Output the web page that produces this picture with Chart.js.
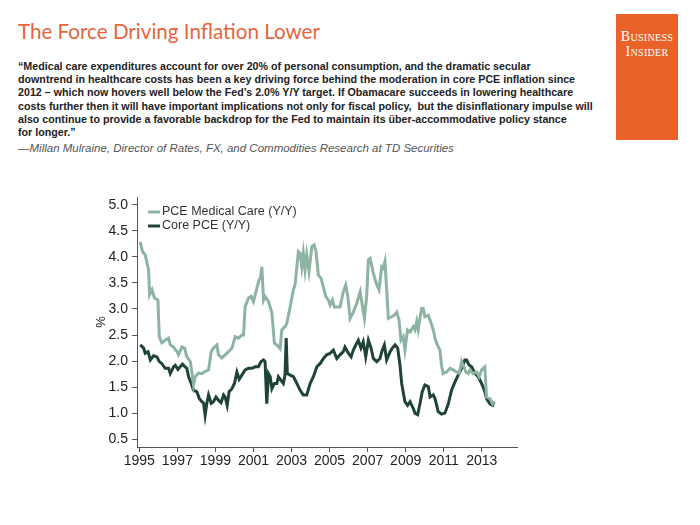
<!DOCTYPE html>
<html>
<head>
<meta charset="utf-8">
<script src="https://cdn.jsdelivr.net/npm/chart.js@4.4.0/dist/chart.umd.min.js"></script>
<style>
  html, body { margin: 0; padding: 0; background: #fff; }
  #page { position: relative; width: 700px; height: 525px; overflow: hidden; }
  #title { position: absolute; left: 18px; top: 19px; font: 20.6px "Lato", "Open Sans", sans-serif; color: #e8643a; white-space: nowrap; }
  #logo { position: absolute; left: 616px; top: 14px; width: 62px; height: 126px; background: #e8622a; color: #fff;
          font: 14px "Liberation Serif", "DejaVu Serif", serif; font-variant: small-caps; text-align: center; line-height: 15px; padding-top: 15px; box-sizing: border-box; letter-spacing: 0.3px; }
  #quote { position: absolute; left: 18px; top: 60px; font: bold 10.7px "Liberation Sans", Arial, sans-serif; color: #222; line-height: 13.2px; white-space: nowrap; }
  #source { position: absolute; left: 18px; top: 142px; font: italic 11.5px "Liberation Sans", Arial, sans-serif; color: #555; white-space: nowrap; }
  #chart { position: absolute; left: 0; top: 0; }
</style>
</head>
<body>
<div id="page">
  <div id="title">The Force Driving Inflation Lower</div>
  <div id="logo">Business<br>Insider</div>
  <div id="quote">“Medical care expenditures account for over 20% of personal consumption, and the dramatic secular<br>downtrend in healthcare costs has been a key driving force behind the moderation in core PCE inflation since<br>2012 – which now hovers well below the Fed’s 2.0% Y/Y target. If Obamacare succeeds in lowering healthcare<br>costs further then it will have important implications not only for fiscal policy,&nbsp; but the disinflationary impulse will<br>also continue to provide a favorable backdrop for the Fed to maintain its über-accommodative policy stance<br>for longer.”</div>
  <div id="source">—Millan Mulraine, Director of Rates, FX, and Commodities Research at TD Securities</div>
  <canvas id="chart" width="700" height="525"></canvas>
</div>
<script>
// valeurs (année décimale, % a/a)
const medYears = [1995.05, 1995.17, 1995.31, 1995.49, 1995.54, 1995.67, 1995.80, 1995.98, 1996.05, 1996.19, 1996.36, 1996.54, 1996.63, 1996.80, 1996.98,
  1997.06, 1997.24, 1997.38, 1997.50, 1997.68, 1997.77, 1997.85, 1997.94, 1998.11, 1998.29, 1998.46, 1998.64, 1998.78, 1998.90,
  1999.08, 1999.16, 1999.34, 1999.51, 1999.69, 1999.87, 2000.04, 2000.21, 2000.39, 2000.48, 2000.56, 2000.74, 2000.88,
  2001.00, 2001.18, 2001.30, 2001.37, 2001.44, 2001.53, 2001.61, 2001.79, 2001.97, 2002.10, 2002.23, 2002.40, 2002.49, 2002.66, 2002.75, 2002.93,
  2003.10, 2003.19, 2003.36, 2003.45, 2003.54, 2003.62, 2003.71, 2003.80, 2003.92, 2004.07, 2004.19, 2004.29, 2004.41, 2004.55, 2004.67, 2004.80, 2004.94,
  2005.03, 2005.15, 2005.25, 2005.46, 2005.55, 2005.72, 2005.85, 2005.96, 2006.08, 2006.25, 2006.43, 2006.61, 2006.69, 2006.83, 2006.95,
  2007.04, 2007.13, 2007.30, 2007.48, 2007.60, 2007.74, 2007.82, 2007.91, 2008.00, 2008.09, 2008.27, 2008.40, 2008.53, 2008.65, 2008.75, 2008.87, 2008.96,
  2009.10, 2009.23, 2009.40, 2009.49, 2009.58, 2009.66, 2009.75, 2009.84, 2009.92, 2010.01, 2010.19, 2010.36, 2010.45, 2010.54, 2010.63, 2010.80, 2010.89, 2010.97,
  2011.15, 2011.33, 2011.50, 2011.68, 2011.81, 2011.94, 2012.02, 2012.17, 2012.29, 2012.38, 2012.55, 2012.73, 2012.86, 2012.99,
  2013.16, 2013.25, 2013.43, 2013.57, 2013.64];
const medValues = [4.29, 4.10, 4.04, 3.75, 3.27, 3.37, 3.21, 3.17, 2.47, 2.35, 2.40, 2.44, 2.31, 2.27, 2.18,
  2.12, 2.27, 2.25, 2.08, 1.99, 1.77, 1.54, 1.70, 1.77, 1.76, 1.80, 1.83, 2.18, 2.25,
  2.31, 2.12, 2.06, 2.12, 2.18, 2.25, 2.47, 2.44, 2.50, 2.50, 3.04, 3.21, 3.24,
  3.14, 3.40, 3.56, 3.60, 3.81, 3.17, 3.24, 3.14, 2.92, 2.34, 2.31, 2.24, 2.60, 2.66, 2.72, 3.04,
  3.37, 3.47, 4.10, 4.07, 3.81, 4.07, 3.75, 4.04, 3.72, 4.20, 4.23, 4.10, 3.65, 3.59, 3.43, 3.24, 3.17,
  3.08, 3.17, 3.04, 3.04, 3.04, 3.33, 3.46, 3.24, 2.82, 2.94, 3.11, 3.33, 3.14, 2.82, 3.24,
  3.94, 3.97, 3.69, 3.46, 3.37, 3.81, 3.78, 3.91, 3.37, 2.82, 2.85, 2.88, 2.94, 2.79, 2.40, 2.47, 2.21,
  2.60, 2.56, 2.66, 2.60, 2.76, 2.60, 2.82, 3.01, 3.01, 2.85, 2.88, 2.70, 2.60, 2.44, 2.34, 2.21, 1.90, 1.76,
  1.79, 1.86, 1.83, 1.79, 1.76, 1.99, 1.92, 1.79, 1.76, 1.83, 1.76, 1.79, 1.70, 1.83,
  1.89, 1.31, 1.28, 1.18, 1.22];

const coreYears = [1995.05, 1995.23, 1995.31, 1995.46, 1995.58, 1995.75, 1995.93, 1996.05, 1996.19, 1996.36, 1996.54, 1996.63, 1996.80, 1996.89,
  1997.03, 1997.15, 1997.27, 1997.41, 1997.50, 1997.59, 1997.73, 1997.85, 1998.03, 1998.15, 1998.29, 1998.38, 1998.46, 1998.55, 1998.64, 1998.78, 1998.90,
  1999.03, 1999.16, 1999.30, 1999.43, 1999.51, 1999.62, 1999.72, 1999.87, 2000.00, 2000.13, 2000.25, 2000.39, 2000.56, 2000.74, 2000.92,
  2001.09, 2001.26, 2001.40, 2001.53, 2001.61, 2001.70, 2001.79, 2001.88, 2001.97, 2002.10, 2002.23, 2002.31, 2002.45, 2002.57, 2002.66, 2002.72, 2002.78, 2002.93,
  2003.10, 2003.28, 2003.45, 2003.62, 2003.80, 2003.98, 2004.15, 2004.33, 2004.50, 2004.68, 2004.85,
  2005.03, 2005.20, 2005.38, 2005.55, 2005.72, 2005.81, 2005.99, 2006.13, 2006.25, 2006.38, 2006.51, 2006.65, 2006.77, 2006.90,
  2007.04, 2007.18, 2007.30, 2007.48, 2007.65, 2007.77, 2007.88, 2008.00, 2008.18, 2008.30, 2008.44, 2008.58, 2008.70, 2008.79, 2008.96,
  2009.10, 2009.23, 2009.40, 2009.49, 2009.63, 2009.75, 2009.87, 2010.01, 2010.19, 2010.28, 2010.45, 2010.54, 2010.71, 2010.89,
  2011.06, 2011.24, 2011.41, 2011.59, 2011.76, 2011.94, 2012.11, 2012.20, 2012.34, 2012.47, 2012.64, 2012.81, 2012.99,
  2013.16, 2013.25, 2013.43, 2013.57, 2013.64];
const coreValues = [2.31, 2.25, 2.15, 2.18, 2.02, 2.10, 2.08, 1.99, 1.95, 1.86, 1.86, 1.76, 1.89, 1.92,
  1.84, 1.89, 1.94, 1.89, 1.86, 1.70, 1.57, 1.44, 1.41, 1.28, 1.22, 1.19, 0.96, 1.19, 1.35, 1.19, 1.22,
  1.31, 1.25, 1.20, 1.35, 1.31, 1.15, 1.41, 1.47, 1.57, 1.79, 1.65, 1.73, 1.83, 1.86, 1.86,
  1.89, 1.89, 1.99, 2.02, 1.99, 1.18, 1.76, 1.70, 1.47, 1.57, 1.57, 1.70, 1.63, 1.57, 1.73, 2.44, 1.76, 1.73,
  1.70, 1.57, 1.44, 1.35, 1.35, 1.57, 1.70, 1.89, 1.95, 2.05, 2.12,
  2.15, 2.21, 2.05, 2.12, 2.18, 2.27, 2.15, 2.08, 2.21, 2.31, 2.40, 2.25, 2.37, 2.08,
  2.40, 2.25, 2.05, 1.99, 2.05, 2.21, 2.31, 2.02, 2.18, 2.25, 2.31, 2.25, 1.92, 1.57, 1.22,
  1.15, 1.22, 1.09, 1.00, 0.97, 1.18, 1.41, 1.54, 1.51, 1.31, 1.35, 1.28, 1.03, 0.98,
  1.00, 1.18, 1.44, 1.60, 1.73, 1.86, 2.02, 2.02, 1.92, 1.89, 1.76, 1.70, 1.57,
  1.41, 1.28, 1.18, 1.15, 1.22];

const seriesLabels = ['PCE Medical Care (Y/Y)', 'Core PCE (Y/Y)'];
const xTickYears = [1995, 1997, 1999, 2001, 2003, 2005, 2007, 2009, 2011, 2013];
const yTickValues = [0.5, 1.0, 1.5, 2.0, 2.5, 3.0, 3.5, 4.0, 4.5, 5.0];

const toPoints = (xs, ys) => xs.map((x, i) => ({ x: x, y: ys[i] }));

// légende dessinée dans la zone du graphique, en haut à gauche
const insideLegend = {
    id: 'insideLegend',
    afterDraw(chart) {
        const ctx = chart.ctx;
        const area = chart.chartArea;
        ctx.save();
        ctx.font = '12.5px "Liberation Sans", Arial, sans-serif';
        ctx.textBaseline = 'middle';
        chart.data.datasets.forEach((ds, i) => {
            const y = area.top + 15 + i * 14;
            ctx.strokeStyle = ds.borderColor;
            ctx.lineWidth = 3;
            ctx.beginPath();
            ctx.moveTo(area.left + 11, y);
            ctx.lineTo(area.left + 23, y);
            ctx.stroke();
            ctx.fillStyle = '#333';
            ctx.fillText(ds.label, area.left + 25, y);
        });
        ctx.restore();
    },
};

const axisColor = '#555';
const tickFont = { family: '"Liberation Sans", Arial, sans-serif', size: 14 };

new Chart(document.getElementById('chart'), {
    type: 'line',
    data: {
        datasets: [{
            label: seriesLabels[0],
            data: toPoints(medYears, medValues),
            borderColor: '#8db4a2',
            borderWidth: 3,
            pointRadius: 0,
            tension: 0,
        }, {
            label: seriesLabels[1],
            data: toPoints(coreYears, coreValues),
            borderColor: '#1f4436',
            borderWidth: 3,
            pointRadius: 0,
            tension: 0,
        }],
    },
    options: {
        responsive: false,
        animation: false,
        layout: { padding: { left: 94, right: 183, top: 197, bottom: 50 } },
        plugins: { legend: { display: false }, tooltip: { enabled: false } },
        scales: {
            x: {
                type: 'linear',
                min: 1994.88,
                max: 2014.85,
                afterBuildTicks: (s) => { s.ticks = xTickYears.map(v => ({ value: v })); },
                afterFit: (s) => { s.height = 28; },
                ticks: { color: '#222', font: tickFont, padding: 1, maxRotation: 0, callback: (v) => String(v) },
                grid: { display: true, drawOnChartArea: false, drawTicks: true, tickLength: 5, color: axisColor },
                border: { display: true, color: axisColor, width: 1 },
            },
            y: {
                type: 'linear',
                min: 0.35,
                max: 5.15,
                afterBuildTicks: (s) => { s.ticks = yTickValues.map(v => ({ value: v })); },
                afterFit: (s) => { s.width = 43; },
                title: { display: true, text: '%', color: '#222', font: { family: '"Liberation Sans", Arial, sans-serif', size: 13 }, padding: 0 },
                ticks: { color: '#222', font: tickFont, padding: 4, callback: (v) => v.toFixed(1) },
                grid: { display: true, drawOnChartArea: false, drawTicks: true, tickLength: 5, color: axisColor },
                border: { display: true, color: axisColor, width: 1 },
            },
        },
    },
    plugins: [insideLegend],
});
</script>
</body>
</html>
